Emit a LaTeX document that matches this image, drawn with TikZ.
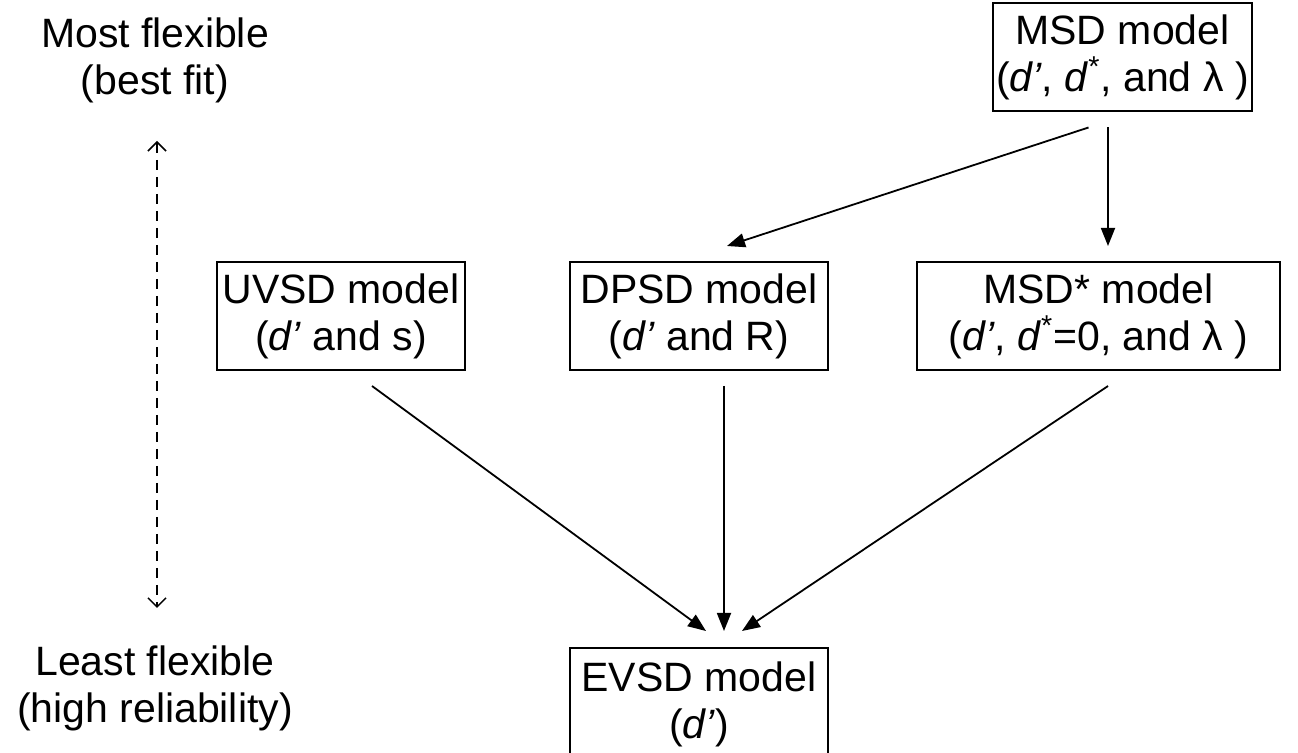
\documentclass[tikz,border=0pt]{standalone}
\usepackage{fontspec}
\setmainfont{Liberation Sans}
\usetikzlibrary{arrows.meta}
\begin{document}
\begin{tikzpicture}[x=0.5pt,y=-0.5pt,
  every node/.style={font=\fontsize{20.5}{23.5}\selectfont, align=center, inner sep=0pt},
  modelbox/.style={draw, line width=1pt, minimum width=#1*0.5pt, minimum height=54pt},
  arr/.style={line width=0.9pt, -{Triangle[length=9pt,width=7pt]}},
  dasharr/.style={line width=0.75pt, dash pattern=on 5pt off 3.5pt, {Straight Barb[length=4.5pt,width=9pt]}-{Straight Barb[length=4.5pt,width=9pt]}}
]
\useasboundingbox (0,0) rectangle (1298,753);
\node[modelbox=259] (msd) at (1122.5,57.5) {MSD model\\(\textit{d’}, \textit{d}\textsuperscript{*}, and λ )};
\node[modelbox=248] (uvsd) at (341,316) {UVSD model\\(\textit{d’} and s)};
\node[modelbox=258] (dpsd) at (699,316) {DPSD model\\(\textit{d’} and R)};
\node[modelbox=363] (msds) at (1098.5,316) {MSD* model\\(\textit{d’}, \textit{d}\textsuperscript{*}=0, and λ )};
\node[draw, line width=1pt, minimum width=129pt, minimum height=56pt] (evsd) at (699,704) {EVSD model\\(\textit{d’})};
\node (top) at (155,60) {Most flexible\\(best fit)};
\node (bot) at (155,688) {Least flexible\\(high reliability)};
\coordinate (ta) at (157,141);
\coordinate (tb) at (157,608);
\draw[dasharr] (ta) -- (tb);
\draw[arr] ([shift={(-34,15)}]msd.south) -- ([shift={(28,-15)}]dpsd.north);
\draw[arr] ([shift={(-14.5,15)}]msd.south) -- ([shift={(9.5,-15)}]msds.north);
\draw[arr] ([shift={(31,15)}]uvsd.south) -- ([shift={(7,-16)}]evsd.north);
\draw[arr] ([shift={(25,15)}]dpsd.south) -- ([shift={(25,-16)}]evsd.north);
\draw[arr] ([shift={(9.5,15)}]msds.south) -- ([shift={(43,-16)}]evsd.north);
\end{tikzpicture}
\end{document}
